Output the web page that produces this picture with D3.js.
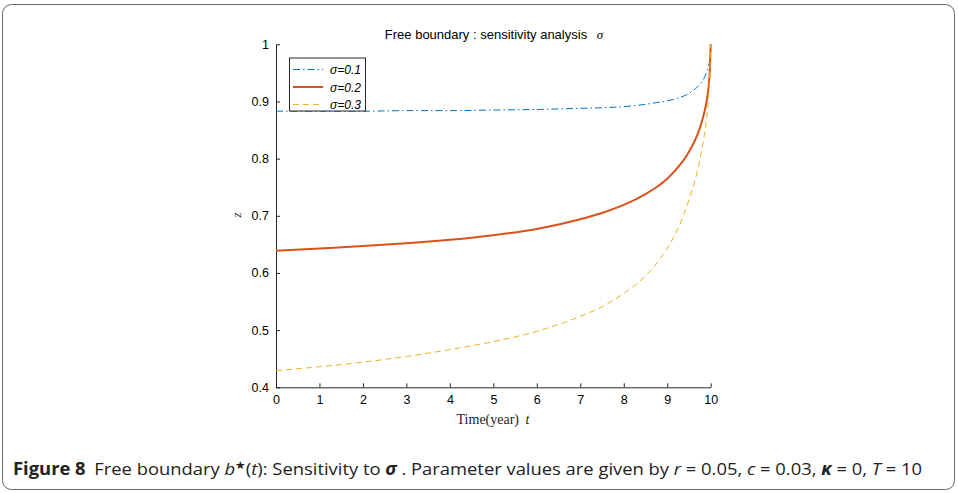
<!DOCTYPE html>
<html><head><meta charset="utf-8">
<script src="https://cdn.jsdelivr.net/npm/d3@7"></script>
<style>body{margin:0;background:#fff;}svg{display:block;}</style>
</head><body>
<script>
const tVals = [0,1,2,3,4,5,6,7,7.5,8,8.5,8.75,9,9.25,9.5,9.7,9.8,9.9,9.95,9.98,10];
const sigma01 = [0.883,0.883,0.883,0.884,0.884,0.885,0.886,0.888,0.889,0.891,0.895,0.898,0.901,0.906,0.914,0.926,0.935,0.950,0.962,0.975,1.0];
const sigma02 = [0.639,0.643,0.647,0.652,0.658,0.666,0.677,0.694,0.705,0.719,0.738,0.750,0.765,0.785,0.812,0.843,0.866,0.898,0.925,0.955,1.0];
const sigma03 = [0.429,0.436,0.444,0.454,0.466,0.480,0.498,0.524,0.541,0.564,0.595,0.616,0.643,0.678,0.728,0.780,0.818,0.868,0.908,0.950,1.0];
const seriesNames = ["σ=0.1","σ=0.2","σ=0.3"];
const xTicks = [0,1,2,3,4,5,6,7,8,9,10];
const yTicks = [0.4,0.5,0.6,0.7,0.8,0.9,1];

const W=958,H=493;
const svg=d3.select("body").append("svg").attr("width",W).attr("height",H);
svg.append("rect").attr("x",2.5).attr("y",4.5).attr("width",952).attr("height",485).attr("rx",9)
  .attr("fill","none").attr("stroke","#666").attr("stroke-width",1);

const x=d3.scaleLinear().domain([0,10]).range([276,710.7]);
const y=d3.scaleLinear().domain([0.4,1]).range([387.3,44.3]);

const fontSans="'Liberation Sans', Arial, sans-serif";
const fontSerif="'Liberation Serif','DejaVu Serif',serif";

const xa=svg.append("g").attr("transform","translate(0,387.3)")
  .call(d3.axisBottom(x).tickValues(xTicks).tickFormat(d3.format("d")).tickSizeInner(-4).tickSizeOuter(0).tickPadding(8));
const ya=svg.append("g").attr("transform","translate(276,0)")
  .call(d3.axisLeft(y).tickValues(yTicks).tickFormat(d=>d===1?"1":d3.format(".1f")(d)).tickSizeInner(-4).tickSizeOuter(0).tickPadding(7));
[xa,ya].forEach(g=>{
  g.select(".domain").attr("stroke","#262626").attr("stroke-width",1);
  g.selectAll(".tick line").attr("stroke","#262626");
  g.selectAll("text").attr("font-family",fontSans).attr("font-size",12.5).attr("fill","#000");
});

const data=[sigma01,sigma02,sigma03];
const colors=["#0072BD","#D95319","#EDB120"];
const dashes=["7,3,1.5,3",null,"6,4"];
const widths=[1,2,1];
const line=d3.line().x(d=>x(d[0])).y(d=>y(d[1])).curve(d3.curveMonotoneX);
data.forEach((s,i)=>{
  svg.append("path").datum(tVals.map((t,j)=>[t,s[j]]))
    .attr("d",line).attr("fill","none").attr("stroke",colors[i])
    .attr("stroke-width",widths[i]).attr("stroke-dasharray",dashes[i]);
});

svg.append("text").attr("x",494).attr("y",39).attr("text-anchor","middle")
  .attr("font-family",fontSans).attr("font-size",13).attr("fill","#000")
  .html("Free boundary : sensitivity analysis <tspan font-family=\"'Liberation Serif',serif\" font-style='italic' dx='6'>σ</tspan>");

svg.append("text").attr("x",493).attr("y",424).attr("text-anchor","middle")
  .attr("font-family",fontSerif).attr("font-size",14).attr("fill","#222")
  .html("Time(year) <tspan font-style='italic' dx='3'>t</tspan>");
svg.append("text").attr("transform","translate(241,215) rotate(-90)").attr("text-anchor","middle")
  .attr("font-family",fontSerif).attr("font-style","italic").attr("font-size",13).attr("fill","#222").text("z");

const lg=svg.append("g");
lg.append("rect").attr("x",289.5).attr("y",58).attr("width",76).attr("height",53)
  .attr("fill","#fff").attr("stroke","#262626").attr("stroke-width",1);
seriesNames.forEach((n,i)=>{
  const yy=69.5+i*17.5;
  lg.append("line").attr("x1",293).attr("x2",323).attr("y1",yy).attr("y2",yy)
    .attr("stroke",colors[i]).attr("stroke-width",widths[i]).attr("stroke-dasharray",dashes[i]);
  lg.append("text").attr("x",330).attr("y",yy+4.5).attr("font-family",fontSans)
    .attr("font-style","italic").attr("font-size",12).attr("fill","#000").text(n);
});

const cap=svg.append("text").attr("x",13).attr("y",475).attr("font-family","'Open Sans',sans-serif")
  .attr("font-size",17).attr("fill","#222").attr("textLength",909).attr("lengthAdjust","spacingAndGlyphs");
cap.append("tspan").attr("font-weight","bold").text("Figure 8");
cap.append("tspan").attr("dx",8).text("Free boundary ");
cap.append("tspan").attr("font-style","italic").text("b");
cap.append("tspan").attr("dy",-6).attr("font-size",11).text("★");
cap.append("tspan").attr("dy",6).text("(");
cap.append("tspan").attr("font-style","italic").text("t");
cap.append("tspan").text("): Sensitivity to ");
cap.append("tspan").attr("font-style","italic").attr("font-weight","bold").text("σ");
cap.append("tspan").text(" . Parameter values are given by ");
cap.append("tspan").attr("font-style","italic").text("r");
cap.append("tspan").text(" = 0.05, ");
cap.append("tspan").attr("font-style","italic").text("c");
cap.append("tspan").text(" = 0.03, ");
cap.append("tspan").attr("font-style","italic").attr("font-weight","bold").text("κ");
cap.append("tspan").text("  = 0, ");
cap.append("tspan").attr("font-style","italic").text("T");
cap.append("tspan").text(" = 10");
</script>
</body></html>
